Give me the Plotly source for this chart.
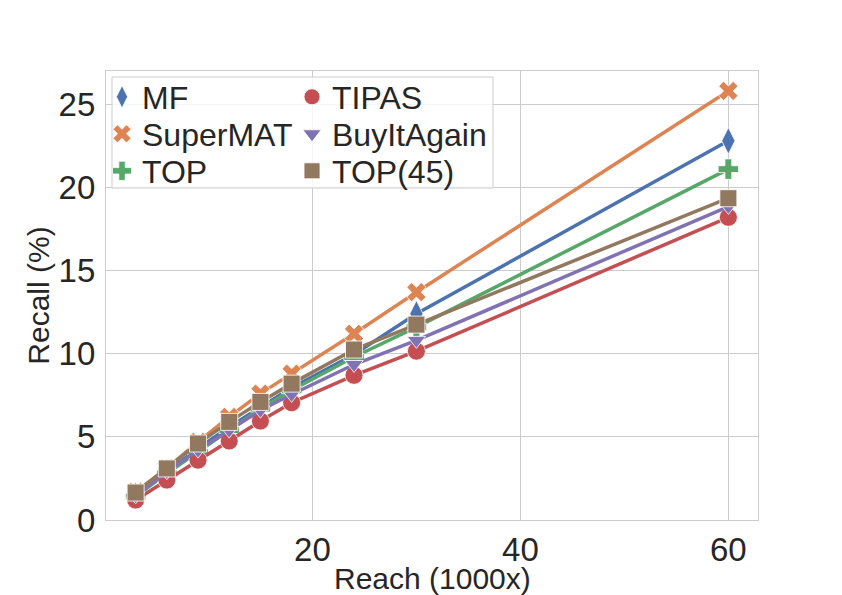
import plotly.graph_objects as go

reach = [3, 6, 9, 12, 15, 18, 24, 30, 60]

mf = [1.5, 2.9, 4.3, 5.6, 6.8, 7.95, 9.95, 12.4, 22.8]
supermat = [1.7, 3.1, 4.7, 6.2, 7.6, 8.8, 11.2, 13.7, 25.8]
top = [1.4, 2.8, 4.1, 5.4, 6.7, 7.8, 9.8, 11.6, 21.1]
tipas = [1.2, 2.4, 3.6, 4.75, 5.95, 7.05, 8.7, 10.15, 18.2]
buyitagain = [1.45, 2.9, 4.2, 5.4, 6.6, 7.55, 9.35, 10.8, 18.85]
top45 = [1.65, 3.1, 4.6, 5.9, 7.1, 8.2, 10.25, 11.75, 19.35]

series_names = ["MF", "SuperMAT", "TOP", "TIPAS", "BuyItAgain", "TOP(45)"]
series_values = [mf, supermat, top, tipas, buyitagain, top45]
colors = ["#4C72B0", "#DD8452", "#55A868", "#C44E52", "#8172B3", "#937860"]
symbols = ["diamond-tall", "x", "cross", "circle", "triangle-down", "square"]
sizes = [19, 17, 17, 18, 16, 17]

FONT = "Liberation Sans, Arial, sans-serif"
TXT = "#262626"
GRID = "#cccccc"

W, H = 842, 595
L, R, T, B = 106, 84, 71, 75
pw, ph = W - L - R, H - T - B

def px(xp):
    return (xp - L) / pw

def py(yp):
    return 1 - (yp - T) / ph

# legend layout: column-first, 3 rows x 2 columns (pixel anchors)
legend_ids = ["legend", "legend2", "legend3", "legend4", "legend5", "legend6"]
legend_left = [102, 102, 102, 292, 292, 292]
legend_mid = [97, 134, 171, 97, 134, 171]

fig = go.Figure()
for name, vals, c, s, sz in zip(series_names, series_values, colors, symbols, sizes):
    fig.add_trace(go.Scatter(
        x=reach, y=vals, mode="lines+markers", name=name,
        line=dict(color=c, width=3.5),
        marker=dict(symbol=s, size=sz, color=c, line=dict(color="white", width=0.8)),
        showlegend=False,
    ))
for name, c, s, sz, lg in zip(series_names, colors, symbols, sizes, legend_ids):
    fig.add_trace(go.Scatter(
        x=[None], y=[None], mode="markers", name=name,
        marker=dict(symbol=s, size=sz, color=c, line=dict(color="white", width=0.8)),
        showlegend=True, legend=lg,
    ))

fig.add_shape(type="rect", xref="paper", yref="paper",
              x0=px(112), x1=px(493), y0=py(188), y1=py(77),
              line=dict(color=GRID, width=1), fillcolor="rgba(255,255,255,0.8)",
              layer="above")

fig.add_annotation(text="Reach (1000x)", xref="paper", yref="paper",
                   x=0.5, y=py(578.5), xanchor="center", yanchor="middle",
                   showarrow=False, borderpad=0,
                   font=dict(family=FONT, size=30, color=TXT))

legend_layout = {}
for lg, lx, ly in zip(legend_ids, legend_left, legend_mid):
    legend_layout[lg] = dict(
        x=px(lx), y=py(ly), xanchor="left", yanchor="middle",
        font=dict(family=FONT, size=32, color=TXT),
        bgcolor="rgba(0,0,0,0)", borderwidth=0, itemsizing="trace",
    )

fig.update_layout(
    width=W, height=H,
    margin=dict(l=L, r=R, t=T, b=B),
    paper_bgcolor="white", plot_bgcolor="white",
    font=dict(family=FONT, color=TXT),
    xaxis=dict(
        range=[0.15, 62.85], tickvals=[20, 40, 60], ticks="",
        showgrid=True, gridcolor=GRID, gridwidth=1, zeroline=False,
        showline=True, linecolor=GRID, linewidth=1.3, mirror=True,
        tickfont=dict(family=FONT, size=33, color=TXT),
        automargin=False,
    ),
    yaxis=dict(
        range=[0, 27], tickvals=[0, 5, 10, 15, 20, 25], ticks="",
        showgrid=True, gridcolor=GRID, gridwidth=1, zeroline=False,
        showline=True, linecolor=GRID, linewidth=1.3, mirror=True,
        tickfont=dict(family=FONT, size=33, color=TXT),
        ticklabelstandoff=3,
        title=dict(text="Recall (%)", font=dict(family=FONT, size=30, color=TXT), standoff=0),
        automargin=False,
    ),
    **legend_layout,
)

fig.write_html(
    "out.html",
    config={"displayModeBar": False},
    post_script="document.body.style.margin='0';document.body.style.padding='0';document.body.style.overflow='hidden';",
)
